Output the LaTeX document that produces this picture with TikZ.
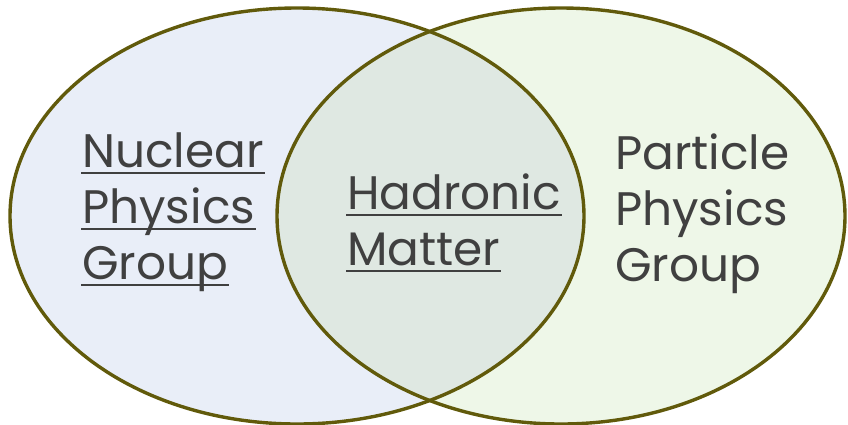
\documentclass[tikz,border=0pt]{standalone}
\usepackage{fontspec}
\setmainfont{Poppins}
\definecolor{vennline}{HTML}{615A0B}
\definecolor{nuclfill}{HTML}{E9EEF8}
\definecolor{partfill}{HTML}{EEF7E8}
\definecolor{hadrfill}{HTML}{DFE8E2}
\definecolor{venntext}{HTML}{404040}

% word with a rule a little under its baseline
\newsavebox{\ulbox}
\newcommand{\ulword}[1]{\sbox{\ulbox}{#1}%
  \rlap{\kern-1pt\vrule height -5pt depth 7.2pt width \dimexpr\wd\ulbox+2pt\relax}\usebox{\ulbox}}

\begin{document}
\begin{tikzpicture}[x=1pt, y=-1pt,
        set/.style={draw=vennline, line width=3.4pt},
        lbl/.style={font=\fontsize{47}{56}\selectfont, text=venntext, align=left,
                    anchor=base west, inner sep=0pt},
      ]
      \useasboundingbox (0,0) rectangle (848,424);
      \coordinate (nucl) at (297,216);
      \coordinate (part) at (561,216);
      \fill[nuclfill] (nucl) ellipse [x radius=287, y radius=208];
      \fill[partfill] (part) ellipse [x radius=284, y radius=208];
      \begin{scope}
        \clip (nucl) ellipse [x radius=287, y radius=208];
        \fill[hadrfill] (part) ellipse [x radius=284, y radius=208];
      \end{scope}
      \draw[set] (nucl) ellipse [x radius=287, y radius=208];
      \draw[set] (part) ellipse [x radius=284, y radius=208];
      % anchors sit on the baseline of the last line
      \node[lbl] (nuclear) at (82,279) {\ulword{Nuclear}\\ \ulword{Physics}\\ \ulword{Group}};
      \node[lbl] (hadronic) at (347,265) {\ulword{Hadronic}\\ \ulword{Matter}};
      \node[lbl] (particle) at (615,281) {Particle\\ Physics\\ Group};
    \end{tikzpicture}
\end{document}
